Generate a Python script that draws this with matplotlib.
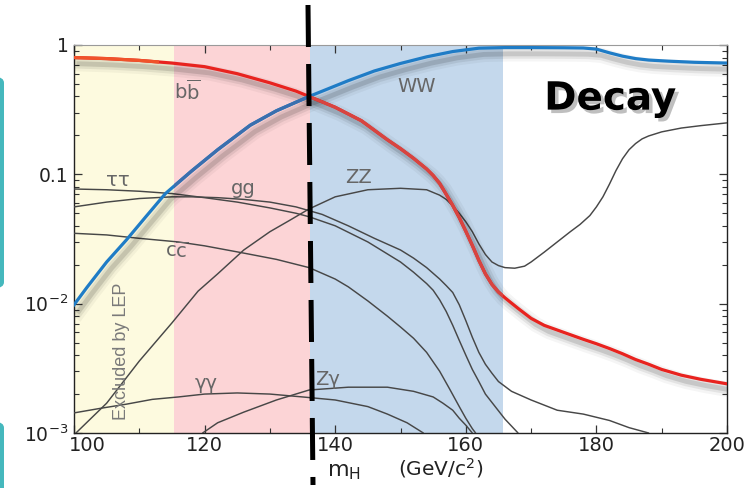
import matplotlib
matplotlib.use("Agg")
import matplotlib.pyplot as plt
import matplotlib.patheffects as pe
import matplotlib.transforms as mtrans
from matplotlib.patches import FancyBboxPatch, Rectangle
from matplotlib.lines import Line2D
from matplotlib.ticker import FixedLocator, NullFormatter, LogLocator

plt.rcParams['mathtext.fontset'] = 'dejavusans'

# ---------------- data (branching ratios) ----------------
bb_m = [100, 105, 110, 115, 120, 125, 130, 134, 136, 140, 144, 148, 150, 152, 154, 155, 156, 157,
        158, 159, 160, 161, 162, 163, 164, 165, 166, 167, 168, 170, 172, 175, 178, 180,
        182, 184, 186, 188, 190, 193, 196, 200]
bb_br = [0.80, 0.785, 0.76, 0.725, 0.68, 0.60, 0.51, 0.44, 0.40, 0.33, 0.26, 0.185, 0.158, 0.133,
         0.110, 0.098, 0.085, 0.070, 0.0575, 0.0462, 0.0363, 0.0282, 0.0216, 0.0170, 0.0141,
         0.0123, 0.0111, 0.0101, 0.0092, 0.0077, 0.0068, 0.0060, 0.0053, 0.0049, 0.0045, 0.0041,
         0.0037, 0.0034, 0.0031, 0.0028, 0.0026, 0.0024]

ww_m = [100, 102, 105, 108, 111, 114, 118, 122, 127, 131, 136, 142, 146, 150, 154, 158, 162, 166,
        170, 175, 178, 180, 182, 184, 186, 188, 191, 195, 200]
ww_br = [0.0098, 0.0134, 0.021, 0.031, 0.047, 0.071, 0.106, 0.155, 0.24, 0.31, 0.40, 0.53, 0.63,
         0.72, 0.81, 0.89, 0.945, 0.955, 0.955, 0.952, 0.948, 0.93, 0.87, 0.82, 0.785, 0.765, 0.75,
         0.735, 0.725]

zz_m = [100.3, 105, 110, 115, 119, 122, 126, 130, 133, 136, 140, 145, 150, 154, 156, 157, 158, 159,
        160, 161, 162, 163, 164, 165, 166, 167.5, 169, 170, 172, 174, 176, 177.5, 179, 180, 181, 182,
        183, 184, 185, 186, 187, 188, 190, 193, 196, 200]
zz_br = [0.001, 0.0017, 0.0036, 0.0071, 0.0125, 0.017, 0.026, 0.036, 0.044, 0.054, 0.067, 0.076,
         0.078, 0.076, 0.069, 0.064, 0.057, 0.050, 0.043, 0.036, 0.029, 0.024, 0.021, 0.0197, 0.019,
         0.0188, 0.0195, 0.021, 0.025, 0.030, 0.036, 0.041, 0.048, 0.056, 0.067, 0.084, 0.107, 0.132,
         0.155, 0.173, 0.188, 0.198, 0.213, 0.228, 0.238, 0.25]

gg_m = [100, 105, 110, 115, 118, 122, 126, 130, 134, 138, 142, 146, 150, 152, 154, 156, 157, 158,
        159, 160, 161, 162, 163, 164, 165, 167, 170, 174, 178, 182, 185, 188]
gg_br = [0.056, 0.061, 0.065, 0.067, 0.067, 0.066, 0.064, 0.061, 0.056, 0.049, 0.040, 0.032, 0.026,
         0.0225, 0.019, 0.0155, 0.0138, 0.0122, 0.0098, 0.0074, 0.0055, 0.0042, 0.0034, 0.0029,
         0.0025, 0.0021, 0.0018, 0.0015, 0.0014, 0.00125, 0.0011, 0.001]

tau_m = [100, 105, 110, 115, 120, 125, 130, 134, 136, 140, 145, 150, 152, 154, 155, 156, 157, 158,
         159, 160, 161, 162, 163, 164.5, 166, 168]
tau_br = [0.077, 0.076, 0.074, 0.071, 0.066, 0.061, 0.055, 0.050, 0.047, 0.040, 0.030, 0.021,
          0.0175, 0.0143, 0.0127, 0.0107, 0.0087, 0.0068, 0.0052, 0.0040, 0.0031, 0.0025, 0.0020,
          0.0016, 0.00128, 0.001]

cc_m = [100, 105, 110, 116, 120, 126, 131, 136, 140, 142, 145, 148, 150, 152, 154, 156, 157.5, 159,
        160, 161, 161.5]
cc_br = [0.035, 0.034, 0.032, 0.030, 0.028, 0.0246, 0.022, 0.019, 0.0155, 0.0135, 0.0105, 0.008,
         0.0066, 0.0054, 0.0042, 0.0030, 0.0022, 0.0016, 0.0013, 0.00108, 0.001]

aa_m = [100, 104, 108, 112, 116, 120, 125, 130, 135, 140, 145, 148, 151, 153.5]
aa_br = [0.00143, 0.00155, 0.00167, 0.00182, 0.0019, 0.002, 0.00204, 0.002, 0.0019, 0.0018,
         0.0016, 0.0014, 0.0012, 0.001]

za_m = [119.7, 122, 126, 131, 136, 142, 148, 152, 155, 156.5, 158, 159, 160, 161]
za_br = [0.001, 0.0012, 0.00145, 0.0018, 0.00215, 0.00226, 0.00226, 0.0021, 0.0019, 0.0017, 0.0015,
         0.0013, 0.00115, 0.001]

# shaded mass regions
lep_range = (100, 115.3)
pink_range = (115.3, 136.1)
blue_range = (136.1, 165.7)

x_ticks = [100, 120, 140, 160, 180, 200]
y_ticks = [1e-3, 1e-2, 0.1, 1]
y_ticklabels = [r'$10^{-3}$', r'$10^{-2}$', '0.1', '1']

# ---------------- figure ----------------
W, H = 746, 488
fig = plt.figure(figsize=(W / 100, H / 100), dpi=100)
fig.patch.set_facecolor('white')
ax = fig.add_axes([74 / W, 1 - 433 / H, (727 - 74) / W, (433 - 45) / H])

ax.axvspan(*lep_range, color='#fdfadf', lw=0, zorder=0)
ax.axvspan(*pink_range, color='#fcd4d6', lw=0, zorder=0)
ax.axvspan(*blue_range, color='#c4d8ec', lw=0, zorder=0)

blk = '#474747'
for m, br in [(zz_m, zz_br), (gg_m, gg_br), (tau_m, tau_br), (cc_m, cc_br),
              (aa_m, aa_br), (za_m, za_br)]:
    ax.plot(m, br, color=blk, lw=1.05, zorder=3, solid_capstyle='round', solid_joinstyle='round')

shadow = [pe.SimpleLineShadow(offset=(3.5, -4.5), shadow_color='k', alpha=0.04, linewidth=11),
          pe.SimpleLineShadow(offset=(3.5, -4.5), shadow_color='k', alpha=0.07, linewidth=7),
          pe.SimpleLineShadow(offset=(3.5, -4.5), shadow_color='k', alpha=0.12, linewidth=3.5),
          pe.Normal()]

ax.plot(bb_m, bb_br, color='#e8231f', lw=2.3, zorder=5, path_effects=shadow,
        solid_joinstyle='round')
ax.plot(ww_m, ww_br, color='#1f7cc6', lw=2.3, zorder=5, path_effects=shadow,
        solid_joinstyle='round')


def tinted(m, br, color, x0, x1):
    ln, = ax.plot(m, br, color=color, lw=2.3, zorder=5.5, solid_joinstyle='round')
    ln.set_clip_path(Rectangle((x0, 1e-4), x1 - x0, 10, transform=ax.transData))


# colour shifts of the thick curves over the shaded bands
tinted(bb_m, bb_br, '#f0532a', 100, 113)
tinted(bb_m, bb_br, '#d84440', 136.1, 165.7)
tinted(ww_m, ww_br, '#3b6fae', 115.3, 136.1)

ax.set_yscale('log')
ax.set_xlim(100, 200)
ax.set_ylim(1e-3, 1)

ax.xaxis.set_major_locator(FixedLocator(x_ticks))
ax.xaxis.set_minor_locator(FixedLocator(list(range(100, 201, 10))))
ax.set_xticklabels([str(t) for t in x_ticks])
ax.yaxis.set_major_locator(FixedLocator(y_ticks))
ax.set_yticklabels(y_ticklabels)
ax.yaxis.set_minor_locator(LogLocator(base=10, subs=range(2, 10)))
ax.yaxis.set_minor_formatter(NullFormatter())

ax.tick_params(which='both', direction='in', top=True, right=True, colors='#333333')
ax.tick_params(which='major', length=6, width=0.9, labelcolor='#222222')
ax.tick_params(axis='x', which='major', labelsize=14, pad=2)
ax.tick_params(axis='y', which='major', labelsize=13.5, pad=4)
ax.tick_params(which='minor', length=3.5, width=0.8)
for s in ['left', 'bottom', 'right']:
    ax.spines[s].set_color('#222222')
    ax.spines[s].set_linewidth(1.0)
ax.spines['top'].set_color('#9a9a9a')

# shift the first x tick label right, as in the reference
first = ax.get_xticklabels()[0]
first.set_transform(first.get_transform() +
                    mtrans.ScaledTranslation(0.13, 0, fig.dpi_scale_trans))

# ---------------- labels ----------------
lab = dict(color='#666666', fontsize=14, ha='center', va='center', zorder=6)
ax.text(117.3, 0.44, r'$\mathrm{b}\overline{\mathrm{b}}$', **lab)
ax.text(152.4, 0.48, 'WW', **lab)
ax.text(106.7, 0.089, 'ττ', **lab)
ax.text(125.9, 0.078, 'gg', **lab)
ax.text(115.8, 0.0255, r'$\mathrm{c}\overline{\mathrm{c}}$', **lab)
ax.text(143.6, 0.094, 'ZZ', **lab)
ax.text(120.2, 0.00243, 'γγ', **lab)
ax.text(138.9, 0.00261, 'Zγ', **lab)
ax.text(107.3, 0.0043, 'Excluded by LEP', rotation=90, color='#7a7a7a', fontsize=13,
        family='Liberation Sans', ha='center', va='center', zorder=6)
ax.text(182.1, 0.385, 'Decay', fontsize=28, fontweight='bold', color='black', ha='center',
        va='center', zorder=7,
        path_effects=[pe.withSimplePatchShadow(offset=(2.5, -2.5), shadow_rgbFace='k', alpha=0.25)])

fig.text(344 / W, 1 - 472 / H, r'$\mathregular{m_H}$', fontsize=16,
         color='#222222', ha='center', va='center')
fig.text(441 / W, 1 - 468 / H, '(GeV/c$^2$)', fontsize=14.5,
         color='#222222', ha='center', va='center')

# ---------------- decorations ----------------
fig.add_artist(Line2D([308 / W, 313 / W], [1 - 5 / H, 1 - 485 / H], transform=fig.transFigure,
                      color='black', lw=3.6, dashes=(8.4, 3.4), solid_capstyle='butt',
                      dash_capstyle='butt', zorder=10))
teal = '#45b8bd'
fig.add_artist(FancyBboxPatch((-12 / W, 1 - 288 / H), 16 / W, 211 / H,
                              boxstyle='round,pad=0,rounding_size=0.012',
                              transform=fig.transFigure, fc=teal, ec='none'))
fig.add_artist(FancyBboxPatch((-12 / W, -20 / H), 16 / W, (488 - 422 + 20) / H,
                              boxstyle='round,pad=0,rounding_size=0.012',
                              transform=fig.transFigure, fc=teal, ec='none'))

fig.savefig('out.png', dpi=100)
